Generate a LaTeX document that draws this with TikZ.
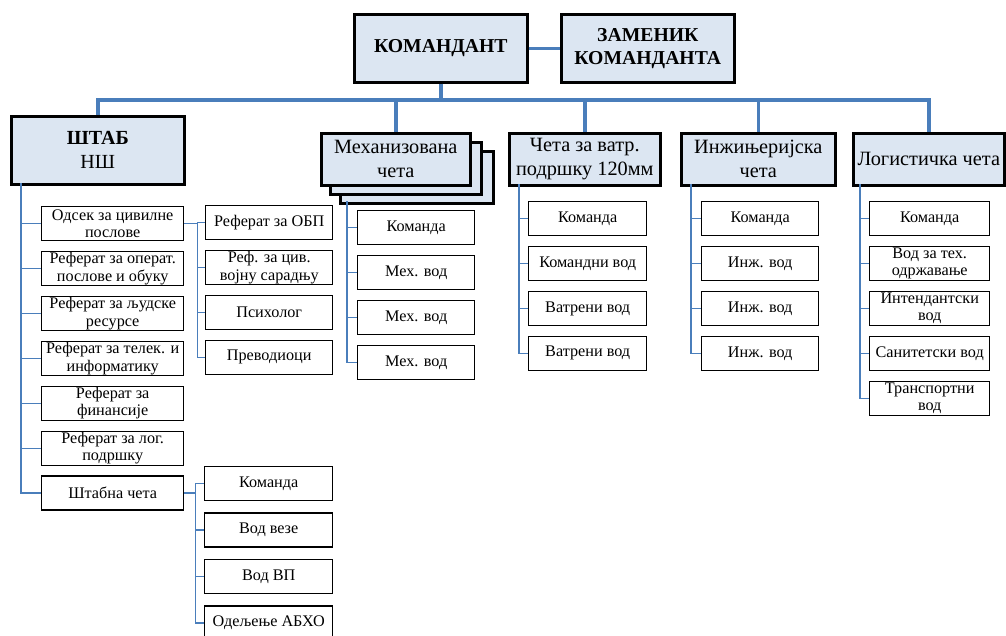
\documentclass[tikz,border=0pt]{standalone}
\usepackage{fontspec}
\setmainfont{Liberation Serif}
\usepackage{tikz}
\usetikzlibrary{positioning}
\definecolor{boxfill}{HTML}{DCE6F2}
\definecolor{linkblue}{HTML}{4A7EBB}

\begin{document}
\begin{tikzpicture}[x=1pt, y=-1pt, node distance=9.5pt]
  \tikzstyle{chief} = [rectangle, draw, line width=2.6pt, fill=boxfill, align=center, inner sep=0pt, anchor=north west, minimum width=173pt, minimum height=68pt, font=\fontsize{19.7}{23}\selectfont\bfseries]
  \tikzstyle{unit} = [rectangle, draw, line width=2.6pt, fill=boxfill, align=center, inner sep=0pt, anchor=north west, minimum height=52pt, font=\fontsize{20.3}{24}\selectfont]
  \tikzstyle{sub} = [rectangle, draw, line width=1.4pt, fill=white, align=center, inner sep=0pt, minimum height=34pt, font=\fontsize{16.2}{17.5}\selectfont]
  \tikzstyle{bus} = [draw, line width=3.6pt, linkblue]
  \tikzstyle{link} = [draw, line width=1.4pt, linkblue]
  \useasboundingbox (0,0) rectangle (1006,635);
  % command
  \node [chief] (komandant) at (353,13) {КОМАНДАНТ};
  \node [chief] (zamenik) at (560,13) {ЗАМЕНИК\\КОМАНДАНТА};
  \coordinate (busline) at (0,100);
  % companies
  \node [chief, font=\fontsize{20}{24}\selectfont] (stab) at (10,115) {\textbf{ШТАБ}\\НШ};
  \node [unit, minimum width=153pt] (meh3) at (339,150) {};
  \node [unit, minimum width=151pt] (meh2) at (329,141) {};
  \node [unit, minimum width=149pt] (meh) at (320,132) {Механизована\\чета};
  \node [unit, minimum width=151pt] (vatr) at (508,132) {Чета за ватр.\\подршку 120мм};
  \node [unit, minimum width=154pt] (inz) at (680,132) {Инжињеријска\\чета};
  \node [unit, minimum width=151pt] (log) at (852,132) {Логистичка чета};
  \path [bus] (komandant) -- (zamenik);
  \path [bus] (komandant.south) -- (komandant.south |- busline);
  \path [bus] (stab.north) -- (stab.north |- busline) -| (log.north);
  \path [bus] (meh.north) -- (meh.north |- busline);
  \path [bus] (vatr.north) -- (vatr.north |- busline);
  \path [bus] (inz.north) -- (inz.north |- busline);
  % staff
  \node [sub, anchor=north west, minimum width=142pt] (odsek) at (41,206) {Одсек за цивилне\\послове};
  \node [sub, minimum width=142pt, below=of odsek] (operat) {Реферат за операт.\\послове и обуку};
  \node [sub, minimum width=142pt, below=of operat] (ljudi) {Реферат за људске\\ресурсе};
  \node [sub, minimum width=142pt, below=of ljudi] (telek) {Реферат за телек. и\\информатику};
  \node [sub, minimum width=142pt, below=of telek] (finans) {Реферат за\\финансије};
  \node [sub, minimum width=142pt, below=of finans] (logpod) {Реферат за лог.\\подршку};
  \node [sub, minimum width=142pt, below=of logpod] (stabceta) {Штабна чета};
  \coordinate (stabspine) at (21,183);
  \path [link] (stabspine) |- (odsek.west);
  \path [link] (stabspine) |- (operat.west);
  \path [link] (stabspine) |- (ljudi.west);
  \path [link] (stabspine) |- (telek.west);
  \path [link] (stabspine) |- (finans.west);
  \path [link] (stabspine) |- (logpod.west);
  \path [link] (stabspine) |- (stabceta.west);
  % civil section
  \node [sub, anchor=north west, minimum width=127pt] (obp) at (205,205) {Реферат за ОБП};
  \node [sub, minimum width=127pt, below=of obp] (civvoj) {Реф. за цив.\\војну сарадњу};
  \node [sub, minimum width=127pt, below=of civvoj] (psih) {Психолог};
  \node [sub, minimum width=127pt, below=of psih] (prev) {Преводиоци};
  \coordinate [right=13pt of odsek.east] (odsekspine);
  \path [link] (odsek.east) -- (odsekspine);
  \path [link] (odsekspine) |- (obp.west);
  \path [link] (odsekspine) |- (civvoj.west);
  \path [link] (odsekspine) |- (psih.west);
  \path [link] (odsekspine) |- (prev.west);
  % staff company
  \node [sub, anchor=north west, minimum width=128pt] (skom) at (204,466) {Команда};
  \node [sub, minimum width=128pt, below=11pt of skom] (veza) {Вод везе};
  \node [sub, minimum width=128pt, below=11pt of veza] (vodvp) {Вод ВП};
  \node [sub, minimum width=128pt, below=11pt of vodvp] (abho) {Одељење АБХО};
  \coordinate [right=11pt of stabceta.east] (cetaspine);
  \path [link] (stabceta.east) -- (cetaspine);
  \path [link] (cetaspine) |- (skom.west);
  \path [link] (cetaspine) |- (veza.west);
  \path [link] (cetaspine) |- (vodvp.west);
  \path [link] (cetaspine) |- (abho.west);
  % mechanized company
  \node [sub, anchor=north west, minimum width=117pt] (mkom) at (357,210) {Команда};
  \node [sub, minimum width=117pt, below=of mkom] (mvod1) {Мех. вод};
  \node [sub, minimum width=117pt, below=of mvod1] (mvod2) {Мех. вод};
  \node [sub, minimum width=117pt, below=of mvod2] (mvod3) {Мех. вод};
  \coordinate (mehspine) at (347,201);
  \path [link] (mehspine) |- (mkom.west);
  \path [link] (mehspine) |- (mvod1.west);
  \path [link] (mehspine) |- (mvod2.west);
  \path [link] (mehspine) |- (mvod3.west);
  % fire support company
  \node [sub, anchor=north west, minimum width=118pt] (vkom) at (528,201) {Команда};
  \node [sub, minimum width=118pt, below=of vkom] (vkvod) {Командни вод};
  \node [sub, minimum width=118pt, below=of vkvod] (vvod1) {Ватрени вод};
  \node [sub, minimum width=118pt, below=of vvod1] (vvod2) {Ватрени вод};
  \coordinate (vatrspine) at (519,184);
  \path [link] (vatrspine) |- (vkom.west);
  \path [link] (vatrspine) |- (vkvod.west);
  \path [link] (vatrspine) |- (vvod1.west);
  \path [link] (vatrspine) |- (vvod2.west);
  % engineer company
  \node [sub, anchor=north west, minimum width=117pt] (ikom) at (701,201) {Команда};
  \node [sub, minimum width=117pt, below=of ikom] (ivod1) {Инж. вод};
  \node [sub, minimum width=117pt, below=of ivod1] (ivod2) {Инж. вод};
  \node [sub, minimum width=117pt, below=of ivod2] (ivod3) {Инж. вод};
  \coordinate (inzspine) at (691,184);
  \path [link] (inzspine) |- (ikom.west);
  \path [link] (inzspine) |- (ivod1.west);
  \path [link] (inzspine) |- (ivod2.west);
  \path [link] (inzspine) |- (ivod3.west);
  % logistics company
  \node [sub, anchor=north west, minimum width=120pt] (lkom) at (869,201) {Команда};
  \node [sub, minimum width=120pt, below=of lkom] (tehod) {Вод за тех.\\одржавање};
  \node [sub, minimum width=120pt, below=of tehod] (intend) {Интендантски\\вод};
  \node [sub, minimum width=120pt, below=of intend] (sanit) {Санитетски вод};
  \node [sub, minimum width=120pt, below=of sanit] (transp) {Транспортни\\вод};
  \coordinate (logspine) at (860,184);
  \path [link] (logspine) |- (lkom.west);
  \path [link] (logspine) |- (tehod.west);
  \path [link] (logspine) |- (intend.west);
  \path [link] (logspine) |- (sanit.west);
  \path [link] (logspine) |- (transp.west);
\end{tikzpicture}
\end{document}
